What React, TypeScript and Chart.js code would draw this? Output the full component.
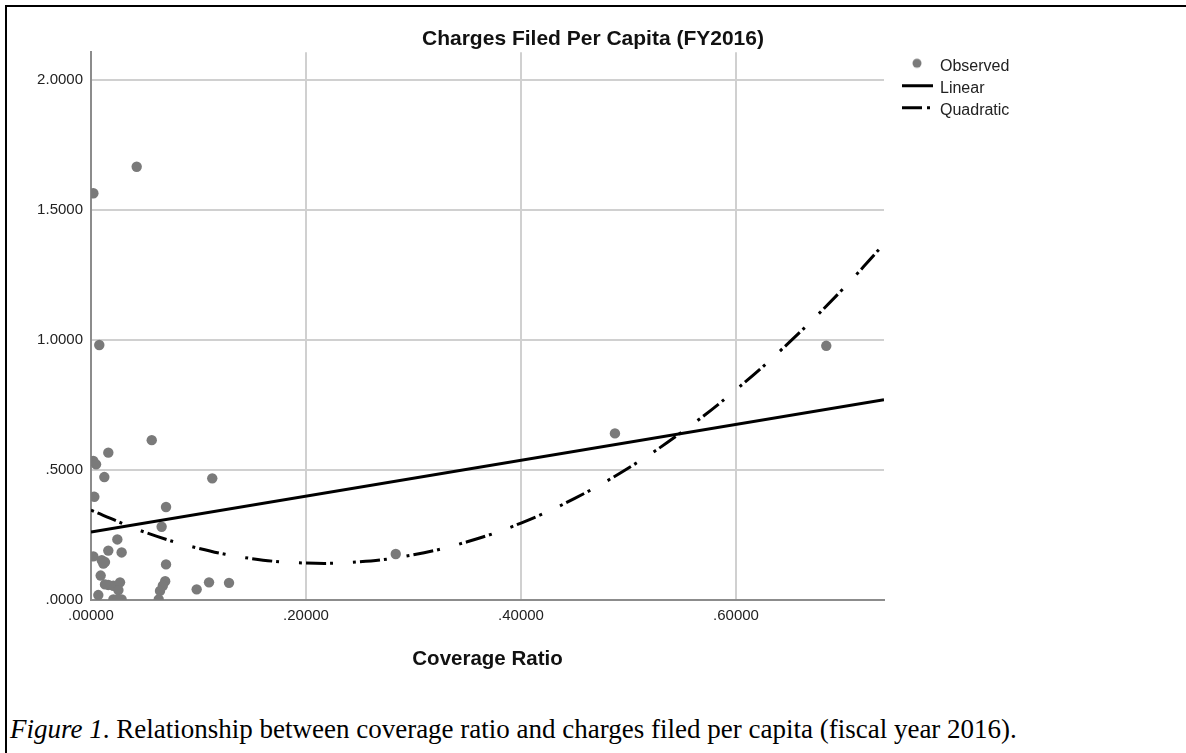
import React, { useEffect, useRef } from "react";
import { Chart, registerables } from "chart.js";

Chart.register(...registerables);

const chartTitle = "Charges Filed Per Capita (FY2016)";
const xAxisTitle = "Coverage Ratio";
const captionLead = "Figure 1";
const captionRest = ". Relationship between coverage ratio and charges filed per capita (fiscal year 2016).";
const seriesNames = ["Observed", "Linear", "Quadratic"];

const observedX = [
  0.0022, 0.0425, 0.0077, 0.0565, 0.0161, 0.0022, 0.0047, 0.0124, 0.1128, 0.0031,
  0.0698, 0.0657, 0.0245, 0.0161, 0.0285, 0.0022, 0.01, 0.013, 0.0115, 0.0698,
  0.009, 0.069, 0.0668, 0.0161, 0.0208, 0.027, 0.0255, 0.013, 0.0642, 0.0068,
  0.0208, 0.0285, 0.0245, 0.063, 0.0983, 0.1098, 0.1284, 0.2835, 0.4874, 0.684,
];
const observedY = [
  1.565, 1.667, 0.981, 0.615, 0.567, 0.535, 0.522, 0.473, 0.468, 0.397,
  0.358, 0.282, 0.233, 0.19, 0.183, 0.168, 0.153, 0.146, 0.14, 0.137,
  0.094, 0.072, 0.055, 0.058, 0.055, 0.068, 0.038, 0.06, 0.035, 0.019,
  0.002, 0.002, 0.002, 0.002, 0.041, 0.068, 0.066, 0.177, 0.641, 0.978,
];

const linearX = [0, 0.7377];
const linearY = [0.262, 0.771];

const quadraticX = [0, 0.05, 0.1, 0.15, 0.2, 0.25, 0.3, 0.35, 0.4, 0.45, 0.5, 0.55, 0.6, 0.65, 0.7, 0.7377];
const quadraticY = [0.346, 0.261, 0.199, 0.159, 0.142, 0.147, 0.174, 0.224, 0.296, 0.391, 0.508, 0.647, 0.809, 0.993, 1.199, 1.37];

const xTickValues = [0, 0.2, 0.4, 0.6];
const xTickLabels = [".00000", ".20000", ".40000", ".60000"];
const yTickValues = [0, 0.5, 1, 1.5, 2];
const yTickLabels = [".0000", ".5000", "1.0000", "1.5000", "2.0000"];

const X_MIN = 0;
const X_MAX = 0.7377;
const Y_MIN = 0;
const Y_MAX = 2.1077;

const POINT_COLOR = "#7a7a7a";
const FONT = "'Liberation Sans', Arial, sans-serif";

function makeSymbol(kind: string): HTMLCanvasElement {
  const c = document.createElement("canvas");
  c.width = 32;
  c.height = 20;
  const ctx = c.getContext("2d") as CanvasRenderingContext2D;
  if (kind === "dot") {
    ctx.fillStyle = POINT_COLOR;
    ctx.beginPath();
    ctx.arc(16, 7, 4.5, 0, Math.PI * 2);
    ctx.fill();
  } else {
    ctx.strokeStyle = "#000";
    ctx.lineWidth = 3;
    if (kind === "dashdot") ctx.setLineDash([20, 5, 3, 20]);
    ctx.beginPath();
    ctx.moveTo(1, 7.5);
    ctx.lineTo(32, 7.5);
    ctx.stroke();
  }
  return c;
}

export default function App() {
  const canvasRef = useRef<HTMLCanvasElement | null>(null);

  useEffect(() => {
    const canvas = canvasRef.current;
    if (!canvas) return;
    const symbols = [makeSymbol("dot"), makeSymbol("line"), makeSymbol("dashdot")];

    const chart = new Chart(canvas, {
      type: "scatter",
      data: {
        datasets: [
          {
            label: seriesNames[0],
            data: observedX.map((x, i) => ({ x, y: observedY[i] })),
            backgroundColor: POINT_COLOR,
            borderColor: POINT_COLOR,
            borderWidth: 0,
            pointRadius: 5.2,
            pointHoverRadius: 5.2,
            order: 3,
          },
          {
            type: "line",
            label: seriesNames[1],
            data: linearX.map((x, i) => ({ x, y: linearY[i] })),
            borderColor: "#000",
            borderWidth: 3,
            pointRadius: 0,
            fill: false,
            order: 1,
          },
          {
            type: "line",
            label: seriesNames[2],
            data: quadraticX.map((x, i) => ({ x, y: quadraticY[i] })),
            borderColor: "#000",
            borderWidth: 3,
            borderDash: [3, 4, 20, 4, 3, 20],
            pointRadius: 0,
            tension: 0.4,
            fill: false,
            order: 2,
          },
        ],
      } as any,
      options: {
        animation: false,
        responsive: false,
        events: [],
        layout: { padding: 0 },
        plugins: {
          tooltip: { enabled: false },
          title: {
            display: true,
            text: chartTitle,
            color: "#111",
            font: { family: FONT, size: 21, weight: "bold" },
            padding: { top: 27, bottom: 0 },
          },
          legend: {
            display: true,
            position: "right",
            align: "start",
            fullSize: false,
            labels: {
              usePointStyle: true,
              pointStyleWidth: 30,
              padding: 6,
              color: "#222",
              font: { family: FONT, size: 16 },
              generateLabels: () =>
                seriesNames.map((name, i) => ({
                  text: name,
                  pointStyle: symbols[i],
                  fillStyle: "transparent",
                  strokeStyle: "transparent",
                  lineWidth: 0,
                  hidden: false,
                  datasetIndex: i,
                  fontColor: "#222",
                })),
            },
          },
        },
        scales: {
          x: {
            type: "linear",
            min: X_MIN,
            max: X_MAX,
            afterBuildTicks: (s: any) => {
              s.ticks = xTickValues.map((v) => ({ value: v }));
            },
            afterFit: (s: any) => {
              s.height = 90;
            },
            grid: { color: "#d0d0d0", lineWidth: 2, drawTicks: false },
            border: { display: true, color: "#8c8c8c", width: 2 },
            ticks: {
              autoSkip: false,
              maxRotation: 0,
              padding: 7,
              color: "#222",
              font: { family: FONT, size: 15 },
              callback: (_v: any, i: number) => xTickLabels[i],
            },
            title: {
              display: true,
              text: xAxisTitle,
              color: "#111",
              font: { family: FONT, size: 20.5, weight: "bold" },
              padding: { top: 4, bottom: 18 },
            },
          },
          y: {
            type: "linear",
            min: Y_MIN,
            max: Y_MAX,
            afterBuildTicks: (s: any) => {
              s.ticks = yTickValues.map((v) => ({ value: v }));
            },
            afterFit: (s: any) => {
              s.width = 91;
            },
            grid: { color: "#d0d0d0", lineWidth: 2, drawTicks: false },
            border: { display: true, color: "#8c8c8c", width: 2 },
            ticks: {
              autoSkip: false,
              padding: 8,
              color: "#222",
              font: { family: FONT, size: 15 },
              callback: (_v: any, i: number) => yTickLabels[i],
            },
          },
          gap: {
            type: "linear",
            position: "right",
            display: true,
            grid: { display: false, drawTicks: false },
            border: { display: false },
            ticks: { display: false },
            afterFit: (s: any) => {
              s.width = 12;
            },
          },
          spacer: {
            type: "linear",
            position: "right",
            weight: 2000,
            display: true,
            grid: { display: false, drawTicks: false },
            border: { display: false },
            ticks: { display: false },
            afterFit: (s: any) => {
              const lw = s.chart.legend ? s.chart.legend.width : 120;
              s.width = Math.max(0, 1186 - 896 - lw);
            },
          },
        },
      } as any,
    });
    return () => chart.destroy();
  }, []);

  return (
    <div style={{ position: "absolute", left: 0, top: 0, width: 1186, height: 753, overflow: "hidden", background: "#fff" }}>
      <div
        style={{
          position: "absolute",
          left: 5,
          top: 5,
          width: 1200,
          height: 800,
          borderLeft: "2px solid #000",
          borderTop: "2px solid #000",
        }}
      />
      <canvas
        ref={canvasRef}
        width={1186}
        height={690}
        style={{ position: "absolute", left: 0, top: 0, display: "block" }}
      />
      <div
        style={{
          position: "absolute",
          left: 10,
          top: 716,
          fontFamily: "'Liberation Serif', 'Times New Roman', serif",
          fontSize: 27,
          lineHeight: "27px",
          color: "#000",
          whiteSpace: "nowrap",
        }}
      >
        <i>{captionLead}</i>
        {captionRest}
      </div>
    </div>
  );
}
